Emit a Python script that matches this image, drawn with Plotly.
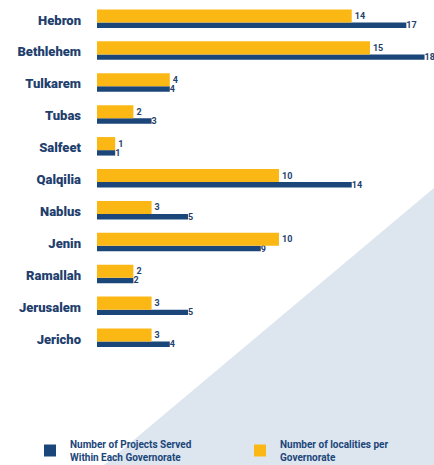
import plotly.graph_objects as go

governorates = ["Hebron", "Bethlehem", "Tulkarem", "Tubas", "Salfeet", "Qalqilia",
                "Nablus", "Jenin", "Ramallah", "Jerusalem", "Jericho"]
projects_served = [17, 18, 4, 3, 1, 14, 5, 9, 2, 5, 4]
localities = [14, 15, 4, 2, 1, 10, 3, 10, 2, 3, 3]

NAVY = "#1b4679"
YELLOW = "#fbb814"
LABEL = "#1f3f6e"
FONT = "Roboto"

W, H = 434, 465
ML, MR, MT, MB = 97, 4, 4, 110
PW, PH = W - ML - MR, H - MT - MB


def px_x(p):
    return (p - ML) / PW


def px_y(p):
    return (H - MB - p) / PH


fig = go.Figure()
fig.add_trace(go.Bar(
    y=governorates, x=projects_served, orientation="h",
    name="Number of Projects Served<br>Within Each Governorate",
    marker=dict(color=NAVY, line=dict(width=0)),
    width=0.17, offset=0.08,
    texttemplate="%{x}", textposition="outside", constraintext="none",
    textfont=dict(family=FONT, size=9, color=LABEL, weight="bold"),
    cliponaxis=False, legend="legend",
))
fig.add_trace(go.Bar(
    y=governorates, x=localities, orientation="h",
    name="Number of localities per<br>Governorate",
    marker=dict(color=YELLOW, line=dict(width=0)),
    width=0.41, offset=-0.33,
    texttemplate="%{x}", textposition="outside", constraintext="none",
    textfont=dict(family=FONT, size=9, color=LABEL, weight="bold"),
    cliponaxis=False, legend="legend2",
))

legend_font = dict(family=FONT, size=10, color=NAVY, weight="bold")
fig.update_layout(
    width=W, height=H,
    margin=dict(l=ML, r=MR, t=MT, b=MB, autoexpand=False),
    paper_bgcolor="white", plot_bgcolor="rgba(0,0,0,0)",
    barmode="overlay",
    showlegend=True,
    legend=dict(x=px_x(30), xanchor="left", y=px_y(431), yanchor="top",
                font=legend_font, bgcolor="rgba(0,0,0,0)"),
    legend2=dict(x=px_x(240), xanchor="left", y=px_y(431), yanchor="top",
                 font=legend_font, bgcolor="rgba(0,0,0,0)"),
    shapes=[dict(
        type="path", xref="paper", yref="paper", layer="below",
        path=f"M {px_x(434)},{px_y(188)} L {px_x(104)},{px_y(465)} L {px_x(434)},{px_y(465)} Z",
        fillcolor="#dde5ef", line=dict(width=0),
    )],
)
fig.update_xaxes(visible=False, range=[0, 18.3])
fig.update_yaxes(
    type="category", categoryorder="array", categoryarray=governorates,
    range=[len(governorates) - 0.5, -0.5], autorange=False,
    showgrid=False, zeroline=False, showline=False,
    ticks="", ticklabelstandoff=15,
    tickfont=dict(family=FONT, size=13, color=LABEL, weight=900),
)

fig.write_html("out.html", config={"displayModeBar": False},
               post_script="document.body.style.margin='0';")
